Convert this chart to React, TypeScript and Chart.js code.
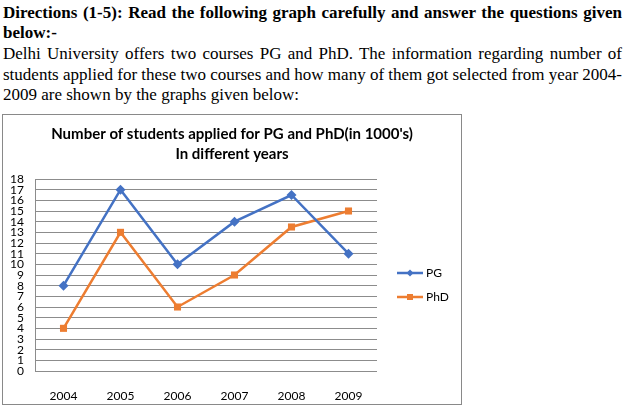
import React, { useEffect, useRef } from "react";
import { Chart, registerables } from "chart.js";

Chart.register(...registerables);

const years = ["2004", "2005", "2006", "2007", "2008", "2009"];
const pgValues = [8, 17, 10, 14, 16.5, 11];
const phdValues = [4, 13, 6, 9, 13.5, 15];
const seriesNames = ["PG", "PhD"];
const titleLines = ["Number of students applied for PG and PhD(in 1000's)", "In different years"];
const yMin = 0;
const yMax = 18;
const yStep = 1;

const FONT = "Lato, 'Liberation Sans', sans-serif";
const GRID = "#8c8c8c";

const legendPlugin = {
  id: "sideLegend",
  afterDraw(chart: any) {
    const ctx = chart.ctx;
    const area = chart.chartArea;
    const cy = (area.top + area.bottom) / 2;
    const x0 = area.right + 20;
    chart.data.datasets.forEach((ds: any, i: number) => {
      const y = cy - 2 + i * 24;
      ctx.save();
      ctx.strokeStyle = ds.borderColor;
      ctx.lineWidth = 2.5;
      ctx.beginPath();
      ctx.moveTo(x0, y);
      ctx.lineTo(x0 + 26, y);
      ctx.stroke();
      ctx.fillStyle = ds.borderColor;
      ctx.beginPath();
      if (ds.pointStyle === "rectRot") {
        ctx.moveTo(x0 + 13, y - 3.5);
        ctx.lineTo(x0 + 16.5, y);
        ctx.lineTo(x0 + 13, y + 3.5);
        ctx.lineTo(x0 + 9.5, y);
        ctx.closePath();
      } else {
        ctx.rect(x0 + 10, y - 3, 6, 6);
      }
      ctx.fill();
      ctx.fillStyle = "#000";
      ctx.font = `12px ${FONT}`;
      ctx.textBaseline = "middle";
      ctx.textAlign = "left";
      ctx.fillText(ds.label, x0 + 29, y + 0.5);
      ctx.restore();
    });
  },
};

function ChartBox() {
  const ref = useRef<HTMLCanvasElement>(null);
  useEffect(() => {
    const chart = new Chart(ref.current!, {
      type: "line",
      data: {
        labels: years,
        datasets: [
          {
            label: seriesNames[0],
            data: pgValues,
            borderColor: "#4472C4",
            backgroundColor: "#4472C4",
            borderWidth: 2.5,
            pointStyle: "rectRot",
            pointRadius: 5,
            pointBorderWidth: 0,
            tension: 0,
          },
          {
            label: seriesNames[1],
            data: phdValues,
            borderColor: "#ED7D31",
            backgroundColor: "#ED7D31",
            borderWidth: 2.5,
            pointStyle: "rect",
            pointRadius: 5,
            pointBorderWidth: 0,
            tension: 0,
          },
        ],
      },
      options: {
        responsive: false,
        animation: false,
        devicePixelRatio: 1,
        layout: { padding: 0 },
        plugins: {
          legend: { display: false },
          tooltip: { enabled: false },
          title: {
            display: true,
            text: titleLines,
            color: "#000",
            font: { family: FONT, size: 15, weight: "bold", lineHeight: "20px" },
            padding: { top: 9, bottom: 15 },
          },
        },
        scales: {
          x: {
            offset: true,
            grid: { display: false },
            border: { display: false },
            ticks: { color: "#000", font: { family: FONT, size: 12 }, padding: 10, maxRotation: 0 },
            afterFit: (s: any) => {
              s.height = 33;
            },
          },
          y: {
            min: yMin,
            max: yMax,
            grid: { color: GRID, lineWidth: 1, drawTicks: false },
            border: { display: true, color: GRID, width: 1 },
            ticks: {
              stepSize: yStep,
              color: "#000",
              font: { family: FONT, size: 12 },
              padding: 11,
              autoSkip: false,
            },
            afterFit: (s: any) => {
              s.width = 32;
            },
          },
          legendSpace: {
            type: "linear",
            position: "right",
            min: yMin,
            max: yMax,
            grid: { display: false },
            border: { display: false },
            ticks: { display: false },
            afterFit: (s: any) => {
              s.width = 84;
            },
          },
        },
      },
      plugins: [legendPlugin],
    });
    return () => chart.destroy();
  }, []);
  return <canvas ref={ref} width={458} height={289} style={{ display: "block" }} />;
}

export default function App() {
  useEffect(() => {
    document.body.style.margin = "0";
    document.body.style.background = "#fff";
  }, []);
  const serif = "'Liberation Serif', 'DejaVu Serif', serif";
  const lineBase: React.CSSProperties = {
    position: "absolute",
    left: 3,
    width: 619,
    whiteSpace: "nowrap",
    fontFamily: serif,
    fontSize: 17,
    lineHeight: "20px",
    color: "#000",
  };
  const just: React.CSSProperties = { textAlign: "justify", textAlignLast: "justify" as any };
  return (
    <div style={{ position: "relative", width: 629, height: 409, background: "#fff" }}>
      <div style={{ ...lineBase, ...just, top: 3, fontWeight: "bold" }}>
        Directions (1-5): Read the following graph carefully and answer the questions given
      </div>
      <div style={{ ...lineBase, top: 23, fontWeight: "bold" }}>below:-</div>
      <div style={{ ...lineBase, ...just, top: 44 }}>
        Delhi University offers two courses PG and PhD. The information regarding number of
      </div>
      <div style={{ ...lineBase, ...just, top: 65 }}>
        students applied for these two courses and how many of them got selected from year 2004-
      </div>
      <div style={{ ...lineBase, top: 85 }}>2009 are shown by the graphs given below:</div>
      <div
        style={{
          position: "absolute",
          left: 2,
          top: 114,
          width: 458,
          height: 289,
          border: "1px solid #898989",
        }}
      >
        <ChartBox />
      </div>
    </div>
  );
}
